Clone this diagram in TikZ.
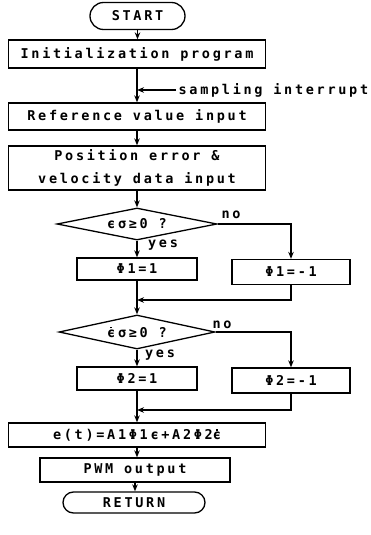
\documentclass[tikz,border=0pt]{standalone}
\usepackage{fontspec}
\newfontfamily\plot{DejaVu Sans Mono}[LetterSpace=20]
\usetikzlibrary{shapes.geometric,shapes.misc,arrows.meta}
\newcommand\edot{\rlap{\raisebox{0.66em}{\hspace{0.24em}\rule{0.13em}{0.13em}}}ϵ}
\begin{document}
\begin{tikzpicture}[x=1pt,y=-1pt, line width=1.3pt,
  every node/.style={font=\plot\bfseries\fontsize{13.5}{23}\selectfont},
  box/.style={draw, rectangle, inner sep=0pt, align=center},
  term/.style={draw, rounded rectangle, inner sep=0pt},
  dec/.style={draw, diamond, inner sep=0pt, aspect=5},
  arr/.style={-{Stealth[length=7pt,width=5.5pt]}},
  lab/.style={inner sep=1pt}]
\useasboundingbox (0,0) rectangle (370,535);
\node[term, minimum width=95pt, minimum height=27pt] (start) at (137.5,16) {START};
\node[box, minimum width=257pt, minimum height=28pt] (init) at (137,54) {Initialization program};
\node[box, minimum width=257pt, minimum height=27pt] (ref) at (137,116.5) {Reference value input};
\node[box, minimum width=257pt, minimum height=44pt] (pos) at (137,168) {Position error \&\\velocity data input};
\node[dec, minimum width=160pt, minimum height=32pt] (d1) at (137,224) {ϵσ≥0 ?};
\node[box, minimum width=120pt, minimum height=22pt] (p1) at (137,269) {Φ1=1};
\node[box, minimum width=118pt, minimum height=25pt] (n1) at (291,272) {Φ1=-1};
\coordinate (m1) at (137,300);
\node[dec, minimum width=156pt, minimum height=34pt] (d2) at (137,332) {\edot σ≥0 ?};
\node[box, minimum width=120pt, minimum height=23pt] (p2) at (137,378.5) {Φ2=1};
\node[box, minimum width=118pt, minimum height=25pt] (n2) at (291,380.5) {Φ2=-1};
\coordinate (m2) at (137,410);
\node[box, minimum width=257pt, minimum height=24pt] (e) at (137,435) {e(t)=A1Φ1ϵ+A2Φ2\edot};
\node[box, minimum width=190pt, minimum height=24pt] (pwm) at (135,470) {PWM output};
\node[term, minimum width=142pt, minimum height=21pt] (ret) at (134,502.5) {RETURN};
% labels
\coordinate (si) at (176,90);
\coordinate (sj) at (137,90);
\node[lab, anchor=west] (sl) at (177,90) {sampling interrupt};
\node[lab] (no1) at (231,215) {no};
\node[lab] (yes1) at (163,245) {yes};
\node[lab] (no2) at (222,325) {no};
\node[lab] (yes2) at (160,355) {yes};
% connectors
\draw[arr] (start.south) -- (start.south |- init.north);
\draw[arr] (init.south) -- (ref.north);
\draw[arr] (si) -- (sj);
\draw[arr] (ref.south) -- (pos.north);
\draw[arr] (pos.south) -- (d1.north);
\draw[arr] (d1.south) -- (p1.north);
\draw[arr] (d1.east) -| (n1.north);
\draw[arr] (n1.south) |- (m1);
\draw[arr] (p1.south) -- (d2.north);
\draw[arr] (d2.south) -- (p2.north);
\draw[arr] (d2.east) -| (n2.north);
\draw[arr] (n2.south) |- (m2);
\draw[arr] (p2.south) -- (e.north);
\draw[arr] (e.south) -- (e.south |- pwm.north);
\draw[arr] (pwm.south) -- (pwm.south |- ret.north);
\end{tikzpicture}
\end{document}
